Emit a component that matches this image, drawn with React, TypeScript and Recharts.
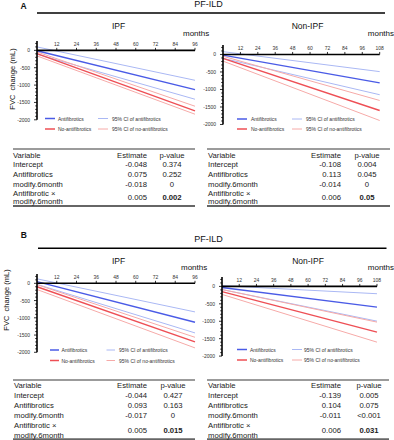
import React from 'react';
import { LineChart, Line, XAxis, YAxis, ReferenceLine, ReferenceDot } from 'recharts';

const FONT = 'Arial, "Liberation Sans", Helvetica, sans-serif';

const BLUE = '#4a5be6';
const BLUE_CI = '#aab8f4';
const RED = '#ee4f55';
const RED_CI = '#f6aaa8';

// months on the x axis (straight regression lines, start and end)
const IPF_MONTHS = [0, 96];
const NON_IPF_MONTHS = [0, 108];
const IPF_TICKS = [12, 24, 36, 48, 60, 72, 84, 96];
const NON_IPF_TICKS = [12, 24, 36, 48, 60, 72, 84, 96, 108];
const Y_TICKS = [
  -2000, -1900, -1800, -1700, -1600, -1500, -1400, -1300, -1200, -1100, -1000,
  -900, -800, -700, -600, -500, -400, -300, -200, -100, 0, 100, 200,
];

// panel A, IPF
const A_IPF_ANTI = [-10, -1130];
const A_IPF_ANTI_UP = [100, -862];
const A_IPF_ANTI_LOW = [-110, -1408];
const A_IPF_NO = [-95, -1744];
const A_IPF_NO_UP = [-45, -1609];
const A_IPF_NO_LOW = [-160, -1839];

// panel A, non-IPF
const A_NON_ANTI = [-20, -810];
const A_NON_ANTI_UP = [80, -490];
const A_NON_ANTI_LOW = [-110, -1150];
const A_NON_NO = [-110, -1600];
const A_NON_NO_UP = [-50, -1314];
const A_NON_NO_LOW = [-190, -1886];

// panel B, IPF
const B_IPF_ANTI = [50, -1130];
const B_IPF_ANTI_UP = [130, -829];
const B_IPF_ANTI_LOW = [-30, -1438];
const B_IPF_NO = [-100, -1699];
const B_IPF_NO_UP = [-40, -1565];
const B_IPF_NO_LOW = [-180, -1873];

// panel B, non-IPF
const B_NON_ANTI = [-30, -595];
const B_NON_ANTI_UP = [20, -210];
const B_NON_ANTI_LOW = [-90, -997];
const B_NON_NO = [-150, -1313];
const B_NON_NO_UP = [-90, -1025];
const B_NON_NO_LOW = [-230, -1600];

const LEGEND_NAMES = ['Antifibrotics', '95% CI of antifibrotics', 'No-antifibrotics', '95% CI of no-antifibrotics'];

// tables
const VARIABLES = ['Intercept', 'Antifibrotics', 'modify.6month'];
const INTERACTION = ['Antifibrotic ×', 'modify.6month'];
const A_IPF_EST = ['-0.048', '0.075', '-0.018', '0.005'];
const A_IPF_P = ['0.374', '0.252', '0', '0.002'];
const A_NON_EST = ['-0.108', '0.113', '-0.014', '0.006'];
const A_NON_P = ['0.004', '0.045', '0', '0.05'];
const B_IPF_EST = ['-0.044', '0.093', '-0.017', '0.005'];
const B_IPF_P = ['0.427', '0.163', '0', '0.015'];
const B_NON_EST = ['-0.139', '0.104', '-0.011', '0.006'];
const B_NON_P = ['0.005', '0.075', '<0.001', '0.031'];

const buildRows = (months: number[], s: number[][]) =>
  months.map((m, i) => ({
    month: m,
    anti: s[0][i],
    antiUp: s[1][i],
    antiLow: s[2][i],
    no: s[3][i],
    noUp: s[4][i],
    noLow: s[5][i],
  }));

const YTick = (props: any) => {
  const { x, y, payload } = props;
  const v = payload.value;
  const major = v % 500 === 0;
  return (
    <g>
      <line x1={x - (major ? 3 : 1.8)} x2={x} y1={y} y2={y} stroke="#000" strokeWidth={0.8} />
      {major && v <= 0 && (
        <text x={x - 7} y={y} textAnchor="end" dominantBaseline="central" fontSize={5} fontFamily={FONT} fill="#333">
          {v}
        </text>
      )}
    </g>
  );
};

const XTick = (props: any) => {
  const { cx, cy, value } = props;
  return (
    <g>
      <line x1={cx} x2={cx} y1={cy} y2={cy - 2.5} stroke="#000" strokeWidth={0.8} />
      <text x={cx} y={cy - 4} textAnchor="middle" fontSize={5} fontFamily={FONT} fill="#333">
        {value}
      </text>
    </g>
  );
};

type Plot = { x0: number; x1: number; y0: number; y1: number };

function Panel({ plot, months, ticks, series }: { plot: Plot; months: number[]; ticks: number[]; series: number[][] }) {
  const yW = 36;
  const padT = 12;
  const padB = 12;
  const padR = 14;
  const width = plot.x1 - plot.x0 + yW + padR;
  const height = plot.y1 - plot.y0 + padT + padB;
  const data = buildRows(months, series);
  const xMax = months[months.length - 1];
  return (
    <div style={{ position: 'absolute', left: plot.x0 - yW, top: plot.y0 - padT }}>
      <LineChart width={width} height={height} data={data} margin={{ top: padT, right: padR, bottom: padB, left: 0 }}>
        <XAxis type="number" dataKey="month" domain={[0, xMax]} hide />
        <YAxis
          type="number"
          domain={[-2000, 270]}
          ticks={Y_TICKS}
          interval={0}
          width={yW}
          allowDataOverflow
          axisLine={{ stroke: '#000', strokeWidth: 1.6 }}
          tickLine={false}
          tickSize={0}
          tickMargin={0}
          tick={<YTick />}
        />
        <Line dataKey="antiUp" stroke={BLUE_CI} strokeWidth={1} dot={false} isAnimationActive={false} />
        <Line dataKey="antiLow" stroke={BLUE_CI} strokeWidth={1} dot={false} isAnimationActive={false} />
        <Line dataKey="noUp" stroke={RED_CI} strokeWidth={1} dot={false} isAnimationActive={false} />
        <Line dataKey="noLow" stroke={RED_CI} strokeWidth={1} dot={false} isAnimationActive={false} />
        <Line dataKey="anti" stroke={BLUE} strokeWidth={1.4} dot={false} isAnimationActive={false} />
        <Line dataKey="no" stroke={RED} strokeWidth={1.4} dot={false} isAnimationActive={false} />
        <ReferenceLine y={0} stroke="#000" strokeWidth={1.6} />
        {ticks.map((t) => (
          <ReferenceDot key={t} x={t} y={0} r={0} shape={(p: any) => <XTick {...p} value={t} />} />
        ))}
      </LineChart>
    </div>
  );
}

function Legend({ rows, c1, c2 }: { rows: number[]; c1: number[]; c2: number[] }) {
  const colors = [BLUE, BLUE_CI, RED, RED_CI];
  return (
    <g>
      {LEGEND_NAMES.map((name, i) => {
        const y = rows[Math.floor(i / 2)];
        const c = i % 2 === 0 ? c1 : c2;
        return (
          <g key={name}>
            <line x1={c[0]} x2={c[1]} y1={y} y2={y} stroke={colors[i]} strokeWidth={i % 2 === 0 ? 1.5 : 1} />
            <text x={c[2]} y={y} dominantBaseline="central" fontSize={5} fontFamily={FONT} fill="#333">
              {name}
            </text>
          </g>
        );
      })}
    </g>
  );
}

type TableCfg = {
  x0: number; x1: number; top: number; bottom: number; header: number; rowH: number;
  lastC: number; lastHalf: number; varX: number; estEnd: number; pC: number;
  est: string[]; p: string[];
};

function Table(t: TableCfg) {
  const fs = 7.7;
  const txt = (x: number, y: number, s: string, anchor: string, bold = false) => (
    <text x={x} y={y} textAnchor={anchor} dominantBaseline="central" fontSize={fs} fontFamily={FONT} fill="#222" fontWeight={bold ? 'bold' : 'normal'}>
      {s}
    </text>
  );
  return (
    <g>
      <line x1={t.x0} x2={t.x1} y1={t.top} y2={t.top} stroke="#7a7a7a" strokeWidth={1.3} />
      <line x1={t.x0} x2={t.x1} y1={t.bottom} y2={t.bottom} stroke="#666" strokeWidth={2} />
      {txt(t.varX, t.header, 'Variable', 'start')}
      {txt(t.estEnd, t.header, 'Estimate', 'end')}
      {txt(t.pC, t.header, 'p-value', 'middle')}
      {VARIABLES.map((v, i) => (
        <g key={v}>
          {txt(t.varX, t.header + (i + 1) * t.rowH, v, 'start')}
          {txt(t.estEnd, t.header + (i + 1) * t.rowH, t.est[i], 'end')}
          {txt(t.pC, t.header + (i + 1) * t.rowH, t.p[i], 'middle')}
        </g>
      ))}
      {txt(t.varX, t.lastC - t.lastHalf, INTERACTION[0], 'start')}
      {txt(t.varX, t.lastC + t.lastHalf, INTERACTION[1], 'start')}
      {txt(t.estEnd, t.lastC, t.est[3], 'end')}
      {txt(t.pC, t.lastC, t.p[3], 'middle', true)}
    </g>
  );
}

export default function App() {
  const T = (x: number, y: number, s: string, size: number, anchor = 'start', bold = false) => (
    <text x={x} y={y} textAnchor={anchor} fontSize={size} fontFamily={FONT} fill="#111" fontWeight={bold ? 'bold' : 'normal'}>
      {s}
    </text>
  );
  return (
    <div style={{ position: 'absolute', left: 0, top: 0, width: 394, height: 440, background: '#fff', overflow: 'hidden', fontFamily: FONT }}>
      <Panel plot={{ x0: 37, x1: 195, y0: 40.7, y1: 119.5 }} months={IPF_MONTHS} ticks={IPF_TICKS}
        series={[A_IPF_ANTI, A_IPF_ANTI_UP, A_IPF_ANTI_LOW, A_IPF_NO, A_IPF_NO_UP, A_IPF_NO_LOW]} />
      <Panel plot={{ x0: 223, x1: 379.7, y0: 44.5, y1: 124 }} months={NON_IPF_MONTHS} ticks={NON_IPF_TICKS}
        series={[A_NON_ANTI, A_NON_ANTI_UP, A_NON_ANTI_LOW, A_NON_NO, A_NON_NO_UP, A_NON_NO_LOW]} />
      <Panel plot={{ x0: 37, x1: 195, y0: 274.4, y1: 352.7 }} months={IPF_MONTHS} ticks={IPF_TICKS}
        series={[B_IPF_ANTI, B_IPF_ANTI_UP, B_IPF_ANTI_LOW, B_IPF_NO, B_IPF_NO_UP, B_IPF_NO_LOW]} />
      <Panel plot={{ x0: 222, x1: 377, y0: 276.6, y1: 355.7 }} months={NON_IPF_MONTHS} ticks={NON_IPF_TICKS}
        series={[B_NON_ANTI, B_NON_ANTI_UP, B_NON_ANTI_LOW, B_NON_NO, B_NON_NO_UP, B_NON_NO_LOW]} />
      <svg width={394} height={440} style={{ position: 'absolute', left: 0, top: 0, pointerEvents: 'none' }}>
        {/* panel A headings */}
        {T(20.5, 9.2, 'A', 8.5, 'start', true)}
        {T(208.5, 7, 'PF-ILD', 9, 'middle')}
        <line x1={37} x2={385} y1={13} y2={13} stroke="#000" strokeWidth={1.5} />
        {T(118.5, 29.3, 'IPF', 8.5, 'middle')}
        {T(307.5, 28.7, 'Non-IPF', 8.5, 'middle')}
        {T(183, 36, 'months', 8)}
        {T(394, 36, 'months', 8, 'end')}
        <text transform="translate(14.7,79) rotate(-90)" textAnchor="middle" fontSize={7.5} fontFamily={FONT} fill="#111" style={{ whiteSpace: 'pre' }}>
          FVC  change (mL)
        </text>
        <Legend rows={[118.5, 129]} c1={[45, 55, 58]} c2={[98, 108, 112]} />
        <Legend rows={[119, 129]} c1={[237, 247, 251]} c2={[292, 302, 306]} />
        <Table x0={13} x1={195} top={149} bottom={206} header={155} rowH={9.7} lastC={197.2} lastHalf={4.2}
          varX={13} estEnd={147} pC={172} est={A_IPF_EST} p={A_IPF_P} />
        <Table x0={207} x1={390} top={149} bottom={206} header={155} rowH={9.7} lastC={197.2} lastHalf={4.2}
          varX={208} estEnd={341} pC={367} est={A_NON_EST} p={A_NON_P} />

        {/* panel B headings */}
        {T(20.7, 238.3, 'B', 8.5, 'start', true)}
        {T(208.5, 242.3, 'PF-ILD', 9, 'middle')}
        <line x1={38} x2={386.5} y1={248.3} y2={248.3} stroke="#000" strokeWidth={1.5} />
        {T(118.5, 264.3, 'IPF', 8.5, 'middle')}
        {T(308, 264.3, 'Non-IPF', 8.5, 'middle')}
        {T(181, 269.5, 'months', 8)}
        {T(394, 269.5, 'months', 8, 'end')}
        <text transform="translate(8.7,300) rotate(-90)" textAnchor="middle" fontSize={7.5} fontFamily={FONT} fill="#111" style={{ whiteSpace: 'pre' }}>
          FVC  change (mL)
        </text>
        <Legend rows={[350, 360.5]} c1={[50, 59, 61.5]} c2={[106.5, 115, 119]} />
        <Legend rows={[349.5, 360]} c1={[237, 247, 250]} c2={[292, 302, 304]} />
        <Table x0={13} x1={195} top={380} bottom={439.3} header={385.7} rowH={10} lastC={430.7} lastHalf={5}
          varX={14} estEnd={147} pC={173} est={B_IPF_EST} p={B_IPF_P} />
        <Table x0={207} x1={389} top={380} bottom={439.3} header={385.7} rowH={10} lastC={430.7} lastHalf={5}
          varX={208} estEnd={341} pC={369} est={B_NON_EST} p={B_NON_P} />
      </svg>
    </div>
  );
}
